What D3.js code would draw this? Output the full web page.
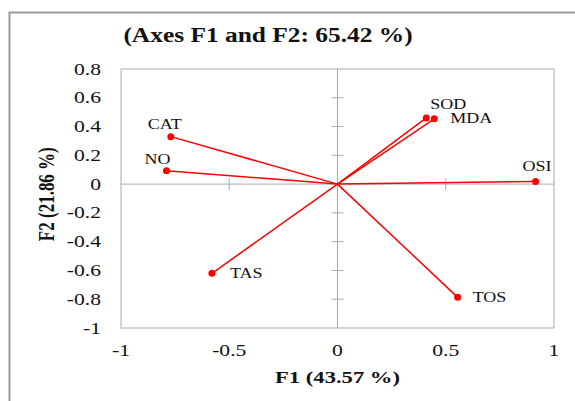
<!DOCTYPE html>
<html lang="en">
<head>
    <meta charset="UTF-8">
    <title>Axes F1 and F2</title>
    <script src="https://d3js.org/d3.v7.min.js"></script>
    <style>
        body { margin: 0; background: #fff; }
    </style>
</head>
<body>
    <svg width="575" height="401"></svg>
    <script>
        // variable loadings
        const variables = ["CAT", "NO", "TAS", "SOD", "MDA", "OSI", "TOS"];
        const f1 = [-0.77, -0.79, -0.58, 0.41, 0.447, 0.915, 0.555];
        const f2 = [0.33, 0.093, -0.62, 0.46, 0.454, 0.019, -0.787];

        const xTicks = [-1, -0.5, 0, 0.5, 1];
        const yTicks = [-1, -0.8, -0.6, -0.4, -0.2, 0, 0.2, 0.4, 0.6, 0.8];

        // label offsets (dx, dy) per variable
        const labelPos = {
            CAT: [-23, -8], NO: [-22, -7], TAS: [18, 5], SOD: [4, -9],
            MDA: [16, 4], OSI: [-13, -10], TOS: [15, 5]
        };

        const FONT = "'Liberation Serif', 'Times New Roman', serif";
        const svg = d3.select("svg");

        // the picture is stretched sideways, so text gets a horizontal scale
        function label(x, y, str, size, sx, anchor, bold) {
            const g = svg.append("g").attr("transform", `translate(${x},${y}) scale(${sx},1)`);
            return g.append("text")
                .attr("text-anchor", anchor)
                .attr("font-family", FONT)
                .attr("font-size", size)
                .attr("font-weight", bold ? "bold" : "normal")
                .attr("fill", "#111")
                .text(str);
        }

        // outer frame (top and left only visible)
        svg.append("path")
            .attr("d", "M9.5,401 V12.5 H575")
            .attr("fill", "none")
            .attr("stroke", "#999")
            .attr("stroke-width", 2);

        const x = d3.scaleLinear().domain([-1, 1]).range([121, 554]);
        const y = d3.scaleLinear().domain([-1, 0.8]).range([328, 69]);

        // plot box
        svg.append("rect")
            .attr("x", x(-1)).attr("y", y(0.8))
            .attr("width", x(1) - x(-1)).attr("height", y(-1) - y(0.8))
            .attr("fill", "none").attr("stroke", "#aaa");

        // zero axes
        svg.append("line")
            .attr("x1", x(-1)).attr("x2", x(1))
            .attr("y1", y(0)).attr("y2", y(0))
            .attr("stroke", "#aaa");
        svg.append("line")
            .attr("x1", x(0)).attr("x2", x(0))
            .attr("y1", y(0.8)).attr("y2", y(-1))
            .attr("stroke", "#aaa");

        // tick marks across the zero lines
        svg.selectAll(".ytick").data(yTicks.filter(d => d > -1 && d < 0.8 && d !== 0))
            .enter().append("line")
            .attr("x1", x(0) - 6).attr("x2", x(0) + 6)
            .attr("y1", d => y(d)).attr("y2", d => y(d))
            .attr("stroke", "#aaa");
        svg.selectAll(".xtick").data(xTicks.filter(d => d > -1 && d < 1 && d !== 0))
            .enter().append("line")
            .attr("x1", d => x(d)).attr("x2", d => x(d))
            .attr("y1", y(0) - 6).attr("y2", y(0) + 6)
            .attr("stroke", "#aaa");

        // tick labels
        yTicks.forEach(d => {
            label(101, y(d) + 5.5, String(+d.toFixed(1)), 16, 1.35, "end");
        });
        xTicks.forEach(d => {
            label(x(d), 356, String(d), 16, 1.35, "middle");
        });

        // title and axis titles
        label(268, 42, "(Axes F1 and F2: 65.42 %)", 20, 1.27, "middle", true);
        label(x(0), 383, "F1 (43.57 %)", 17, 1.33, "middle", true);
        svg.append("text")
            .attr("transform", "translate(54," + y(-0.07) + ") rotate(-90) scale(1,1.3)")
            .attr("text-anchor", "middle")
            .attr("font-family", FONT)
            .attr("font-size", 17).attr("font-weight", "bold")
            .attr("fill", "#111")
            .text("F2 (21.86 %)");

        // loading vectors
        const data = variables.map((v, i) => ({ name: v, x: f1[i], y: f2[i] }));

        svg.selectAll(".vec").data(data).enter().append("line")
            .attr("x1", x(0)).attr("y1", y(0))
            .attr("x2", d => x(d.x)).attr("y2", d => y(d.y))
            .attr("stroke", "#f00").attr("stroke-width", 1.5);

        svg.selectAll(".pt").data(data).enter().append("circle")
            .attr("cx", d => x(d.x)).attr("cy", d => y(d.y))
            .attr("r", 3.5).attr("fill", "#f00");

        data.forEach(d => {
            label(x(d.x) + labelPos[d.name][0], y(d.y) + labelPos[d.name][1], d.name, 15, 1.2, "start");
        });
    </script>
</body>
</html>
